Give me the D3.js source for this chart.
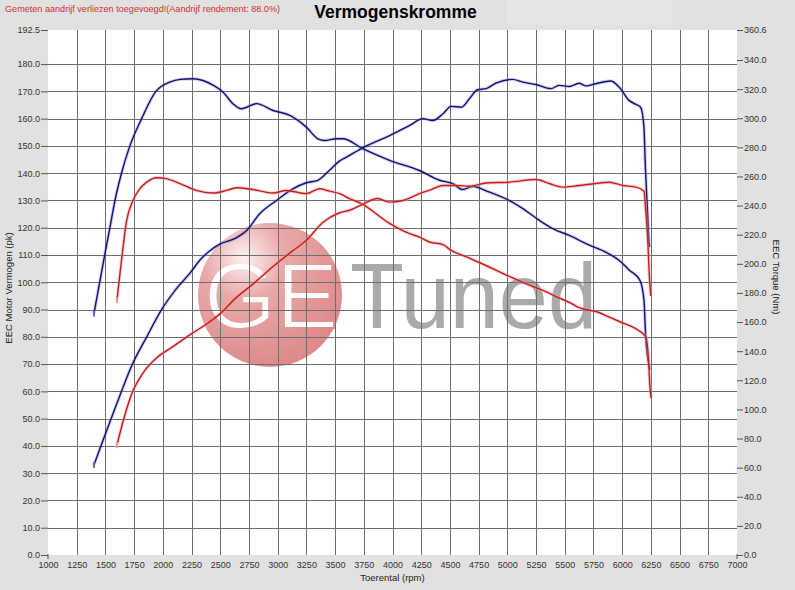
<!DOCTYPE html>
<html>
<head>
<meta charset="utf-8">
<script src="https://cdn.jsdelivr.net/npm/d3@7"></script>
<style>
  html, body { margin: 0; padding: 0; background: #e1e1e1; }
  svg { display: block; }
  text { font-family: "Liberation Sans", Arial, sans-serif; }
</style>
</head>
<body>
<svg id="chart" width="795" height="590"></svg>
<script>
// ---------- DATA ----------
const xTicks = [1000,1250,1500,1750,2000,2250,2500,2750,3000,3250,3500,3750,4000,4250,4500,4750,5000,5250,5500,5750,6000,6250,6500,6750,7000];
const leftTicks = [0,10,20,30,40,50,60,70,80,90,100,110,120,130,140,150,160,170,180,192.5];
const rightTicks = [0,20,40,60,80,100,120,140,160,180,200,220,240,260,280,300,320,340,360.6];

// Blue run – torque (Nm)
const blueTorqueRpm = [1400,1496,1539,1583,1640,1713,1815,1939,2060,2150,2265,2350,2440,2525,2610,2685,2815,2960,3105,3250,3350,3410,3510,3570,3740,3975,4235,4410,4525,4610,4700,4815,5015,5135,5280,5395,5540,5715,5860,5975,6060,6155,6190,6205,6230,6240];
const blueTorqueNm = [165.8,207.0,224.8,243.5,262.2,281.0,299.7,318.4,324.8,326.7,327.1,325.9,322.6,317.9,310.0,306.5,310.0,305.3,302.0,293.9,285.9,284.7,285.9,285.9,279.1,271.1,264.1,257.4,255.1,251.0,253.3,250.1,243.5,237.9,229.8,224.2,219.5,212.8,207.9,202.3,195.8,188.6,175.0,149.9,131.5,127.4];

// Blue run – power (pk)
const bluePowerRpm = [1400,1470,1600,1730,1860,1985,2115,2245,2320,2405,2495,2625,2730,2845,2990,3135,3250,3350,3450,3540,3600,3740,3975,4150,4265,4350,4440,4510,4600,4670,4740,4815,4900,5045,5135,5250,5380,5450,5540,5625,5685,5770,5900,5975,6060,6120,6160,6190,6200,6220,6235,6240];
const bluePowerPk = [33,41,55.6,69.5,80,89.7,97.5,103.8,108,111.4,114,116,119,125.2,130,134.3,136.5,137.4,141,144.5,145.9,149.3,153.8,157.5,160,159.3,161.8,164.5,164.2,167.3,170.6,171,173,174.4,173.4,172.5,171,172.2,171.8,173,172,172.8,173.8,171.5,166.7,165.2,164.2,156.9,144.7,126.4,114.2,113];

// Red run – torque (Nm)
const redTorqueRpm = [1600,1640,1685,1740,1800,1860,1945,2030,2150,2290,2440,2555,2640,2785,2960,3075,3250,3365,3450,3540,3625,3740,3960,4150,4235,4320,4440,4510,4645,4770,5030,5230,5340,5425,5560,5625,5785,5885,5980,6140,6205,6230,6240,6252];
const redTorqueNm = [175.0,202.3,229.8,243.5,251.6,256.1,259.1,258.5,255.1,250.4,248.6,250.4,252.3,251.0,248.6,250.4,248.2,251.6,249.9,248.2,244.8,240.9,228.5,220.7,218.4,215.0,213.2,209.2,204.7,200.4,190.9,184.1,180.8,177.5,172.7,169.9,166.9,163.5,160.2,154.4,149.9,133.7,117.8,107.7];

// Red run – power (pk)
const redPowerRpm = [1600,1665,1730,1825,1955,2085,2245,2375,2500,2630,2790,2955,3130,3250,3395,3540,3625,3740,3870,3975,4090,4235,4320,4440,4555,4670,4815,5015,5250,5365,5480,5625,5770,5885,6005,6120,6190,6205,6220,6240,6250];
const redPowerPk = [40.3,50.7,59.2,66.6,72.6,76.3,81,84.5,88.5,94,99.5,105.6,111.5,115.4,122,125.5,126.4,128.6,130.7,129.4,130,132.5,133.7,135.5,135.5,135.2,136.4,136.7,137.7,136.2,134.9,135.5,136.2,136.7,135.5,134.9,133.4,126.4,117.8,100,95];

// ---------- LAYOUT ----------
const W = 795, H = 590;
const padL = 48, padR = 737, padT = 30, padB = 555;
const svg = d3.select("#chart");

const x = d3.scaleLinear().domain([1000, 7000]).range([padL, padR]);
const yL = d3.scaleLinear().domain([0, 192.5]).range([padB, padT]);
const yR = d3.scaleLinear().domain([0, 360.6]).range([padB, padT]);

// background
svg.append("rect").attr("width", W).attr("height", H).attr("fill", "#e1e1e1");
svg.append("rect").attr("x", 507).attr("y", 0).attr("width", 165).attr("height", 25).attr("fill", "#e7e5e7");

// plot area
svg.append("rect").attr("x", padL).attr("y", padT).attr("width", padR - padL).attr("height", padB - padT).attr("fill", "#ffffff");

// watermark
const defs = svg.append("defs");
const rg = defs.append("radialGradient").attr("id", "wm").attr("gradientUnits", "userSpaceOnUse")
  .attr("cx", 244).attr("cy", 258).attr("r", 118);
rg.append("stop").attr("offset", "0%").attr("stop-color", "#fdf2f2");
rg.append("stop").attr("offset", "35%").attr("stop-color", "#eaa8a8");
rg.append("stop").attr("offset", "100%").attr("stop-color", "#dc8888");
const wm = svg.append("g");
wm.append("circle").attr("cx", 270).attr("cy", 295).attr("r", 72).attr("fill", "url(#wm)");
const geAttrs = t => t.attr("x", 204).attr("y", 328).attr("font-family", "Lato, 'Open Sans', sans-serif")
  .attr("font-weight", 300).attr("font-size", 92)
  .attr("textLength", 134).attr("lengthAdjust", "spacingAndGlyphs").text("GE");
wm.append("text").call(geAttrs).attr("fill", "#ffffff");
wm.append("text").call(geAttrs).attr("fill", "none").attr("stroke", "url(#wm)").attr("stroke-width", 2);
wm.append("text").attr("x", 350).attr("y", 328).attr("font-family", "Lato, 'Open Sans', sans-serif")
  .attr("font-weight", 400).attr("font-size", 92).attr("fill", "#aaaaaa")
  .attr("textLength", 247).attr("lengthAdjust", "spacingAndGlyphs").text("Tuned");

// grid
const grid = svg.append("g").attr("stroke", "#6e6e6e").attr("stroke-width", 1).attr("shape-rendering", "crispEdges");
grid.selectAll("line.v").data(xTicks.filter(d => d > 1000 && d < 7000)).enter().append("line")
  .attr("x1", d => Math.round(x(d)) + 0.5).attr("x2", d => Math.round(x(d)) + 0.5)
  .attr("y1", padT).attr("y2", padB);
grid.selectAll("line.h").data(leftTicks.filter(d => d > 0 && d < 192.5)).enter().append("line")
  .attr("x1", padL).attr("x2", padR)
  .attr("y1", d => Math.round(yL(d)) + 0.5).attr("y2", d => Math.round(yL(d)) + 0.5);

// axes
const axisColor = "#555";
const gl = svg.append("g").attr("transform", `translate(${padL},0)`)
  .call(d3.axisLeft(yL).tickValues(leftTicks).tickSize(7).tickPadding(1).tickFormat(d => d.toFixed(1)));
const gr = svg.append("g").attr("transform", `translate(${padR},0)`)
  .call(d3.axisRight(yR).tickValues(rightTicks).tickSize(6).tickPadding(1).tickFormat(d => d.toFixed(1)));
const gb = svg.append("g").attr("transform", `translate(0,${padB})`)
  .call(d3.axisBottom(x).tickValues(xTicks).tickSize(0).tickPadding(7).tickFormat(d => d));
[gl, gr, gb].forEach(g => {
  g.select(".domain").remove();
  g.selectAll("line").attr("stroke", axisColor);
  g.selectAll("text").attr("fill", "#333").attr("font-size", 9).attr("font-family", "'Liberation Sans', Arial, sans-serif");
});
// corner ticks
svg.selectAll("line.corner").data([xTicks[0], xTicks[xTicks.length - 1]]).enter().append("line")
  .attr("x1", d => x(d)).attr("x2", d => x(d)).attr("y1", padB - 1).attr("y2", padB + 4)
  .attr("stroke", axisColor);

// curves
const line = (yScale) => d3.line().x(d => x(d[0])).y(d => yScale(d[1])).curve(d3.curveMonotoneX);
const zip = (a, b) => a.map((v, i) => [v, b[i]]);
const series = [
  { data: zip(blueTorqueRpm, blueTorqueNm), y: yR, color: "#111170", halo: "#6a6ac8", ho: 0.3 },
  { data: zip(bluePowerRpm, bluePowerPk), y: yL, color: "#111170", halo: "#6a6ac8", ho: 0.3 },
  { data: zip(redTorqueRpm, redTorqueNm), y: yR, color: "#c21e1e", halo: "#f39a9a", ho: 0.45 },
  { data: zip(redPowerRpm, redPowerPk), y: yL, color: "#c21e1e", halo: "#f39a9a", ho: 0.45 }
];
series.forEach(s => {
  svg.append("path").attr("d", line(s.y)(s.data)).attr("fill", "none")
    .attr("stroke", s.halo).attr("stroke-opacity", s.ho).attr("stroke-width", 3.4).attr("stroke-linejoin", "round");
  svg.append("path").attr("d", line(s.y)(s.data)).attr("fill", "none")
    .attr("stroke", s.color).attr("stroke-width", 1.4).attr("stroke-linejoin", "round");
  const p = s.data[0];
  svg.append("line").attr("x1", x(p[0])).attr("x2", x(p[0]))
    .attr("y1", s.y(p[1]) - 3).attr("y2", s.y(p[1]) + 3)
    .attr("stroke", s.halo).attr("stroke-width", 2);
});

// titles
svg.append("text").attr("x", 5).attr("y", 12).attr("font-size", 9.1).attr("fill", "#d03030")
  .text("Gemeten aandrijf verliezen toegevoegd!(Aandrijf rendement: 88.0%)");
svg.append("text").attr("x", 395.5).attr("y", 18).attr("text-anchor", "middle")
  .attr("font-size", 17.5).attr("font-weight", "bold").attr("fill", "#000").text("Vermogenskromme");
svg.append("text").attr("x", 392.5).attr("y", 581).attr("text-anchor", "middle")
  .attr("font-size", 9.5).attr("fill", "#222").text("Toerental (rpm)");
svg.append("text").attr("transform", "translate(12,288) rotate(-90)").attr("text-anchor", "middle")
  .attr("font-size", 9.5).attr("fill", "#222").text("EEC Motor Vermogen (pk)");
svg.append("text").attr("transform", "translate(773,277) rotate(90)").attr("text-anchor", "middle")
  .attr("font-size", 9.5).attr("fill", "#222").text("EEC Torque (Nm)");
</script>
</body>
</html>
